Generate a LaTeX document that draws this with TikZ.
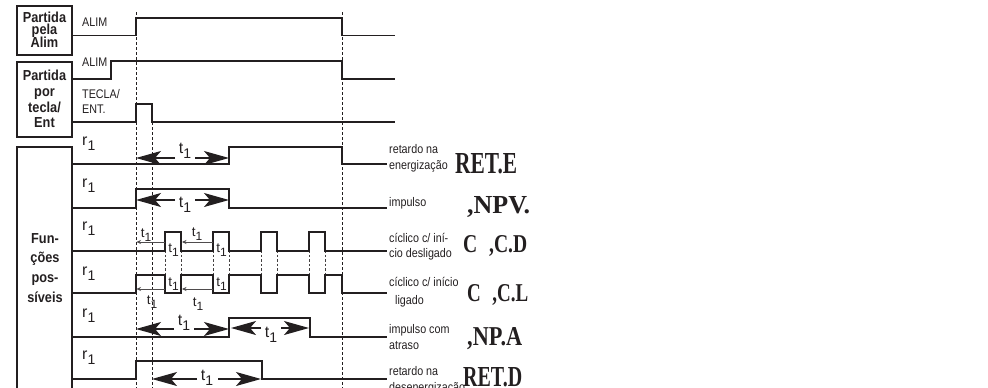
\documentclass[tikz,border=0pt]{standalone}
\usepackage{fontspec}
\setmainfont{Liberation Sans}
\newfontfamily\serifb{Liberation Serif}
\usetikzlibrary{arrows.meta}
\definecolor{ink}{RGB}{35,31,32}
\newcommand\tA{{\fontsize{16}{16}\selectfont t\raisebox{-5pt}{\fontsize{14}{14}\selectfont 1}}}
\newcommand\tB{{\fontsize{13.5}{13.5}\selectfont t\raisebox{-4pt}{\fontsize{12}{12}\selectfont 1}}}
\newcommand\rA{{\fontsize{16}{16}\selectfont r\raisebox{-5pt}{\fontsize{14}{14}\selectfont 1}}}
\newcommand\sx[1]{\scalebox{0.86}[1]{#1}}
\newcommand\bsx[1]{\scalebox{0.88}[1]{#1}}
\tikzset{
 sig/.style={line width=1.3pt, draw=ink},
 vdash/.style={line width=0.9pt, draw=ink, dash pattern=on 3pt off 2pt},
 pdash/.style={line width=0.6pt, draw=ink!85, dash pattern=on 2.5pt off 2pt},
 boxs/.style={line width=1.4pt, draw=ink},
 bigarr/.style={line width=1.3pt, draw=ink, -{Stealth[length=25pt,width=14pt,inset=6pt]}},
 thinarr/.style={line width=0.5pt, draw=ink!80, -{Stealth[length=4.5pt,width=4pt]}},
 boxtxt/.style={anchor=base, inner sep=0, text=ink, font=\fontsize{14.5}{15}\selectfont\bfseries},
 lbl/.style={anchor=base west, inner sep=0, text=ink, font=\fontsize{12.5}{13}\selectfont},
 tl/.style={anchor=base, inner sep=0, text=ink},
 codel/.style={anchor=base west, inner sep=0, text=ink},
}
\begin{document}
\begin{tikzpicture}[x=1pt,y=-1pt]
\useasboundingbox (0,0) rectangle (988,388);
\clip (0,0) rectangle (988,388);
% boxes
\draw[boxs] (17,6) rectangle (72,55);
\draw[boxs] (17,62) rectangle (72,137);
\draw[boxs] (17,147) rectangle (72,420);
\node[boxtxt] (b1a) at (44.5,22.5) {\bsx{Partida}};
\node[boxtxt] (b1b) at (44.5,34.5) {\bsx{pela}};
\node[boxtxt] (b1c) at (44.5,47.5) {\bsx{Alim}};
\node[boxtxt] (b2a) at (44.5,80) {\bsx{Partida}};
\node[boxtxt] (b2b) at (44.5,96) {\bsx{por}};
\node[boxtxt] (b2c) at (44.5,112) {\bsx{tecla/}};
\node[boxtxt] (b2d) at (44.5,127) {\bsx{Ent}};
\node[boxtxt] (b3a) at (45,243) {\bsx{Fun-}};
\node[boxtxt] (b3b) at (45,262) {\bsx{ções}};
\node[boxtxt] (b3c) at (45,282) {\bsx{pos-}};
\node[boxtxt] (b3d) at (45,302) {\bsx{síveis}};
% vertical dashed guides
\draw[vdash] (136,12) -- (136,388);
\draw[vdash] (342,12) -- (342,388);
\draw[vdash] (152,122) -- (152,388);
\foreach \xx in {165,181,213,229,261,277,309,325} {\draw[pdash] (\xx,232) -- (\xx,293);}
% signals
\draw[sig] (73,35.5) -- (136,35.5) -- (136,18) -- (342,18) -- (342,35.5) -- (395,35.5);
\draw[sig] (73,79) -- (111,79) -- (111,61) -- (342,61) -- (342,79) -- (395,79);
\draw[sig] (73,122) -- (136,122) -- (136,104) -- (152,104) -- (152,122) -- (395,122);
\draw[sig] (73,164) -- (229,164) -- (229,147) -- (342,147) -- (342,164) -- (387,164);
\draw[sig] (73,208) -- (136,208) -- (136,189) -- (229,189) -- (229,208) -- (387,208);
\draw[sig] (73,251) -- (165,251) -- (165,232) -- (181,232) -- (181,251) -- (213,251) -- (213,232) -- (229,232) -- (229,251)
  -- (261,251) -- (261,232) -- (277,232) -- (277,251) -- (309,251) -- (309,232) -- (325,232) -- (325,251) -- (387,251);
\draw[sig] (73,293) -- (136,293) -- (136,275) -- (165,275) -- (165,293) -- (181,293) -- (181,275) -- (213,275) -- (213,293)
  -- (229,293) -- (229,275) -- (261,275) -- (261,293) -- (277,293) -- (277,275) -- (309,275) -- (309,293) -- (325,293)
  -- (325,275) -- (342,275) -- (342,293) -- (387,293);
\draw[sig] (73,337) -- (229,337) -- (229,318) -- (310,318) -- (310,337) -- (387,337);
\draw[sig] (73,379) -- (136,379) -- (136,361) -- (262,361) -- (262,379) -- (387,379);
% left labels
\node[lbl] (l1) at (82,26) {\sx{ALIM}};
\node[lbl] (l2) at (82,66) {\sx{ALIM}};
\node[lbl] (l3) at (82,98) {\sx{TECLA/}};
\node[lbl] (l4) at (82,113) {\sx{ENT.}};
\node[codel] (r1) at (82,145) {\rA};
\node[codel] (r2) at (82,187) {\rA};
\node[codel] (r3) at (82,230) {\rA};
\node[codel] (r4) at (82,275) {\rA};
\node[codel] (r5) at (82,317) {\rA};
\node[codel] (r6) at (82,359) {\rA};
% big arrows
\draw[bigarr] (175,158) -- (136,158);
\draw[bigarr] (195,158) -- (229,158);
\node[tl] (ta) at (185,153) {\tA};
\draw[bigarr] (175,200) -- (136,200);
\draw[bigarr] (195,200) -- (229,200);
\node[tl] (tb) at (185,207) {\tA};
\draw[bigarr] (174,329) -- (136,329);
\draw[bigarr] (194,329) -- (229,329);
\node[tl] (tc) at (184,325) {\tA};
\draw[bigarr] (261,328) -- (231,328);
\draw[bigarr] (281,328) -- (309,328);
\node[tl] (td) at (271,337) {\tA};
\draw[bigarr] (197,379) -- (152,379);
\draw[bigarr] (218,379) -- (261,379);
\node[tl] (te) at (207,380) {\tA};
% thin arrows
\draw[thinarr, {Stealth[length=4.5pt,width=4pt]}-] (136.5,242) -- (164.5,242);
\draw[thinarr] (212.5,242) -- (182,242);
\draw[thinarr, {Stealth[length=4.5pt,width=4pt]}-] (136.5,289) -- (164.5,289);
\draw[thinarr, {Stealth[length=4.5pt,width=4pt]}-] (182,289) -- (212.5,289);
\node[tl] (s1) at (146,237) {\tB};
\node[tl] (s2) at (197,236) {\tB};
\node[tl] (s3) at (173.5,252) {\tB};
\node[tl] (s4) at (221.5,252) {\tB};
\node[tl] (s5) at (152,304) {\tB};
\node[tl] (s6) at (173.5,286) {\tB};
\node[tl] (s7) at (221.5,286) {\tB};
\node[tl] (s8) at (198,306) {\tB};
% right labels
\node[lbl] (ra1) at (389,153) {\sx{retardo na}};
\node[lbl] (ra2) at (389,169) {\sx{energização}};
\node[lbl] (rb1) at (389,206) {\sx{impulso}};
\node[lbl] (rc1) at (389,242) {\sx{cíclico c/ iní-}};
\node[lbl] (rc2) at (389,257) {\sx{cio desligado}};
\node[lbl] (rd1) at (389,286) {\sx{cíclico c/ início}};
\node[lbl] (rd2) at (395,304) {\sx{ligado}};
\node[lbl] (re1) at (389,333) {\sx{impulso com}};
\node[lbl] (re2) at (389,349) {\sx{atraso}};
\node[lbl] (rf1) at (389,375) {\sx{retardo na}};
\node[lbl] (rf2) at (389,391) {\sx{desenergização}};
% codes
\node[codel] (c1) at (455,173) {\resizebox{62pt}{20pt}{\serifb\bfseries RET.E}};
\node[codel] (c2) at (467,213) {\resizebox{63pt}{17pt}{\serifb\bfseries ,NPV.}};
\node[codel] (c3) at (463,252) {\resizebox{64pt}{17pt}{\serifb\bfseries C\hspace{0.6em},C.D}};
\node[codel] (c4) at (467,301) {\resizebox{61pt}{17pt}{\serifb\bfseries C\hspace{0.6em},C.L}};
\node[codel] (c5) at (467,345) {\resizebox{55pt}{18pt}{\serifb\bfseries ,NP.A}};
\node[codel] (c6) at (463,386) {\resizebox{59pt}{19pt}{\serifb\bfseries RET.D}};
\end{tikzpicture}
\end{document}
